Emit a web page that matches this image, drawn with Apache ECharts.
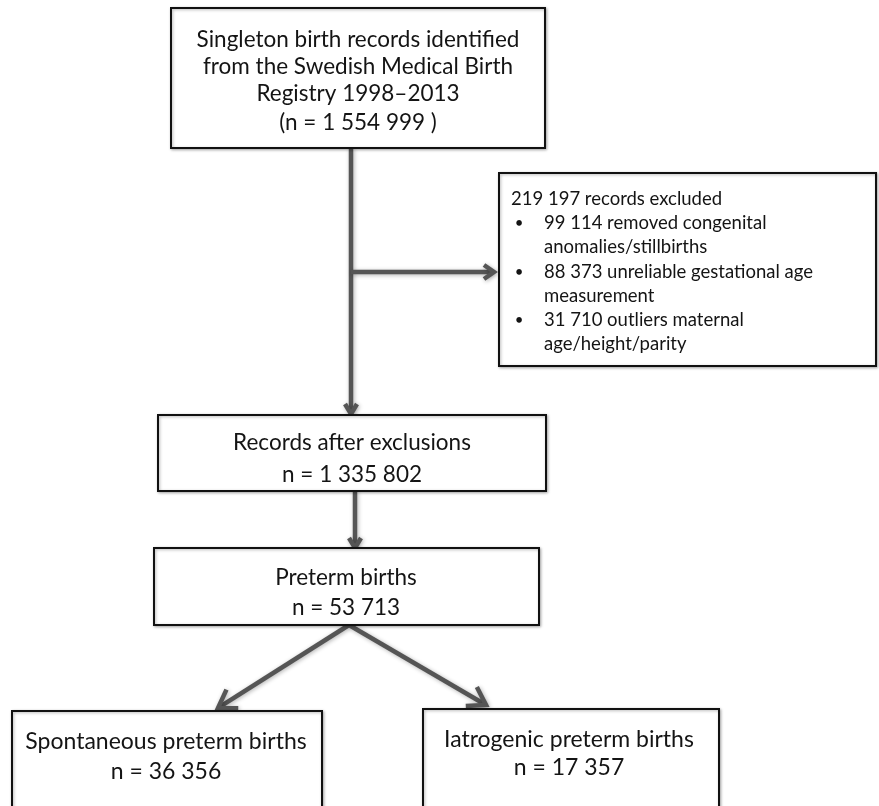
<!DOCTYPE html>
<html><head><meta charset="utf-8">
<script src="https://cdn.jsdelivr.net/npm/echarts@6/dist/echarts.min.js"></script>
<style>html,body{margin:0;padding:0;background:#fff}#c{width:879px;height:806px}</style>
</head><body><div id="c"></div>
<script>
// ---------- content (text of each box) ----------
const topBoxLines = ['Singleton birth records identified', 'from the Swedish Medical Birth', 'Registry 1998–2013', '(n = 1 554 999 )'];
const excludedLines = ['219 197 records excluded', '•', '99 114 removed congenital', 'anomalies/stillbirths', '•', '88 373 unreliable gestational age', 'measurement', '•', '31 710 outliers maternal', 'age/height/parity'];
const afterExclusionLines = ['Records after exclusions', 'n = 1 335 802'];
const pretermLines = ['Preterm births', 'n = 53 713'];
const spontaneousLines = ['Spontaneous preterm births', 'n = 36 356'];
const iatrogenicLines = ['Iatrogenic preterm births', 'n = 17 357'];

const boxTexts = [topBoxLines, excludedLines, afterExclusionLines, pretermLines, spontaneousLines, iatrogenicLines];

// ---------- layout (diagram coordinates, same scale as the page) ----------
const boxRects = [
  [171, 8, 545, 148],
  [499, 173, 876, 366],
  [158, 415, 546, 491],
  [154, 548, 539, 625],
  [12, 711, 322, 840],
  [423, 709, 719, 840]
];
// per line: [x, y]
const boxTextPos = [
  [[358, 40], [358, 67], [358, 94], [358, 123]],
  [[511, 199], [519, 223], [544, 223], [544, 247], [519, 272], [544, 272], [544, 296], [519, 320], [544, 320], [544, 344]],
  [[352, 443], [352, 475]],
  [[346, 578], [346, 608]],
  [[166, 742], [166, 772]],
  [[569, 740], [569, 768]]
];
const boxTextAlign = ['center', 'left', 'center', 'center', 'center', 'center'];
const boxFontSize = [22.5, 18.5, 22.5, 22.5, 23, 23];

const arrowPaths = [
  [[351, 148], [351, 414]],
  [[351, 272], [494, 272]],
  [[355, 491], [355, 548]],
  [[349, 625], [218, 708]],
  [[349, 625], [486, 705]]
];
const arrowHeads = [[10, 6], [10, 7], [10, 6], [17, 11], [17, 11]]; // length, half width

const chart = echarts.init(document.getElementById('c'), null, {renderer: 'canvas'});

const option = {
  animation: false,
  backgroundColor: '#fff',
  grid: {left: 0, right: 0, top: 0, bottom: 0},
  xAxis: {type: 'value', min: 0, max: 879, show: false},
  yAxis: {type: 'value', min: 0, max: 806, inverse: true, show: false},
  series: [
    {
      type: 'custom',
      name: 'arrows',
      coordinateSystem: 'cartesian2d',
      silent: true,
      z: 1,
      data: arrowPaths.map((p, i) => [p[0][0], p[0][1], i]),
      encode: {x: 0, y: 1},
      renderItem: function (params, api) {
        const i = params.dataIndex;
        const a = api.coord(arrowPaths[i][0]);
        const b = api.coord(arrowPaths[i][1]);
        const dx = b[0] - a[0], dy = b[1] - a[1];
        const L = Math.sqrt(dx * dx + dy * dy);
        const ux = dx / L, uy = dy / L;
        const nx = -uy, ny = ux;
        const len = arrowHeads[i][0], hw = arrowHeads[i][1];
        const bx = b[0] - ux * len, by = b[1] - uy * len;
        const style = {
          stroke: '#555', lineWidth: 4.5, fill: null,
          shadowBlur: 4, shadowColor: 'rgba(0,0,0,0.3)', shadowOffsetX: 1, shadowOffsetY: 1,
          lineJoin: 'miter'
        };
        return {
          type: 'group',
          children: [
            {type: 'polyline', shape: {points: [a, [b[0] - ux * 2, b[1] - uy * 2]]}, style: style},
            {type: 'polyline', shape: {points: [[bx + nx * hw, by + ny * hw], b, [bx - nx * hw, by - ny * hw]]}, style: style}
          ]
        };
      }
    },
    {
      type: 'custom',
      name: 'boxes',
      coordinateSystem: 'cartesian2d',
      silent: true,
      z: 2,
      data: boxRects,
      encode: {x: [0, 2], y: [1, 3]},
      renderItem: function (params, api) {
        const i = params.dataIndex;
        const p0 = api.coord([api.value(0), api.value(1)]);
        const p1 = api.coord([api.value(2), api.value(3)]);
        const children = [{
          type: 'rect',
          shape: {x: p0[0], y: p0[1], width: p1[0] - p0[0], height: p1[1] - p0[1]},
          style: {fill: '#fff', stroke: '#111', lineWidth: 2,
            shadowBlur: 3, shadowColor: 'rgba(0,0,0,0.3)', shadowOffsetX: 1, shadowOffsetY: 1}
        }];
        boxTexts[i].forEach(function (t, k) {
          const pos = api.coord(boxTextPos[i][k]);
          children.push({
            type: 'text',
            style: {
              text: t, x: pos[0], y: pos[1],
              align: t === '•' ? 'center' : boxTextAlign[i],
              verticalAlign: 'middle',
              font: (t === '•' ? 15 : boxFontSize[i]) + 'px Lato, "Open Sans", sans-serif',
              fill: '#141414'
            }
          });
        });
        return {type: 'group', children: children};
      }
    }
  ]
};
chart.setOption(option);
</script>
</body></html>
